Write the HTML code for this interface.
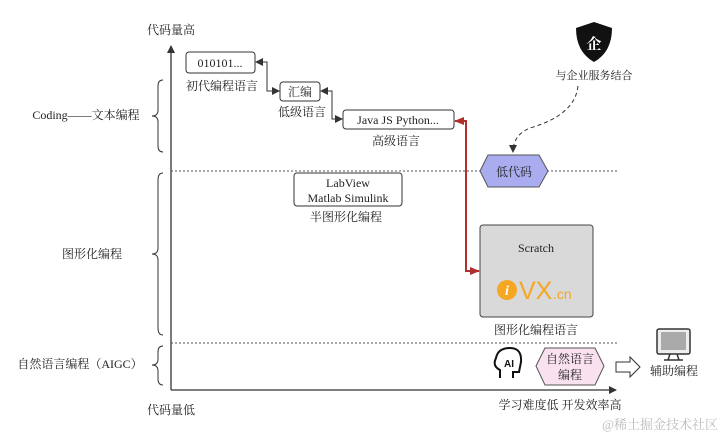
<!DOCTYPE html>
<html><head><meta charset="utf-8"><style>
body{margin:0;background:#fff}
svg{display:block}
text{font-family:"Liberation Serif","Noto Serif CJK SC",serif;fill:#222}
</style></head><body>
<svg width="720" height="437" viewBox="0 0 720 437" xmlns="http://www.w3.org/2000/svg">
<defs>
<marker id="a" markerWidth="8" markerHeight="8" refX="7" refY="4" orient="auto" markerUnits="userSpaceOnUse"><path d="M0,0 L8,4 L0,8z" fill="#333"/></marker>
<marker id="r" markerWidth="10" markerHeight="8" refX="9" refY="4" orient="auto" markerUnits="userSpaceOnUse"><path d="M0,0 L10,4 L0,8z" fill="#b03030"/></marker>
</defs>
<line x1="171" y1="390" x2="171" y2="46" stroke="#333" stroke-width="1.3" marker-end="url(#a)"/>
<line x1="171" y1="390" x2="616" y2="390" stroke="#333" stroke-width="1.3" marker-end="url(#a)"/>
<text x="171" y="34" font-size="12" text-anchor="middle">代码量高</text>
<text x="171" y="414" font-size="12" text-anchor="middle">代码量低</text>
<text x="560" y="409" font-size="12" text-anchor="middle">学习难度低  开发效率高</text>
<line x1="171" y1="171" x2="617" y2="171" stroke="#555" stroke-dasharray="2,2"/>
<line x1="171" y1="343" x2="617" y2="343" stroke="#555" stroke-dasharray="2,2"/>
<g fill="none" stroke="#333" stroke-width="1">
<path d="M163,80 Q158,80 158,86 L158,110 Q158,116 152,116 Q158,116 158,122 L158,146 Q158,152 163,152"/>
<path d="M163,173 Q158,173 158,180 L158,248 Q158,254 152,254 Q158,254 158,260 L158,328 Q158,335 163,335"/>
<path d="M163,346 Q158,346 158,352 L158,359 Q158,365 152,365 Q158,365 158,371 L158,379 Q158,385 163,385"/>
</g>
<text x="86" y="119" font-size="12" text-anchor="middle">Coding——文本编程</text>
<text x="92" y="258" font-size="12" text-anchor="middle">图形化编程</text>
<text x="80" y="368" font-size="12" text-anchor="middle">自然语言编程（AIGC）</text>
<rect x="186" y="52" width="69" height="21" rx="3" fill="#fff" stroke="#333"/>
<text x="220" y="67" font-size="12" text-anchor="middle">010101...</text>
<text x="222" y="90" font-size="12" text-anchor="middle">初代编程语言</text>
<rect x="280" y="82" width="40" height="19" rx="3" fill="#fff" stroke="#333"/>
<text x="300" y="96" font-size="12" text-anchor="middle">汇编</text>
<text x="302" y="116" font-size="12" text-anchor="middle">低级语言</text>
<rect x="343" y="110" width="111" height="19" rx="3" fill="#fff" stroke="#333"/>
<text x="398" y="124" font-size="12" text-anchor="middle">Java JS Python...</text>
<text x="396" y="145" font-size="12" text-anchor="middle">高级语言</text>
<g fill="none" stroke="#333" stroke-width="1">
<path d="M280,91 L267,91 L267,62 L256,62" marker-end="url(#a)"/>
<path d="M267,91 L279,91" marker-end="url(#a)"/>
<path d="M343,119 L332,119 L332,91 L321,91" marker-end="url(#a)"/>
<path d="M332,119 L342,119" marker-end="url(#a)"/>
</g>
<rect x="294" y="173" width="108" height="33" rx="3" fill="#fff" stroke="#333"/>
<text x="348" y="187" font-size="12" text-anchor="middle">LabView</text>
<text x="348" y="202" font-size="12" text-anchor="middle">Matlab Simulink</text>
<text x="346" y="221" font-size="12" text-anchor="middle">半图形化编程</text>
<path d="M466,271 L466,121 L455,121" fill="none" stroke="#b03030" stroke-width="2" marker-end="url(#r)"/>
<path d="M466,121 L466,271 L479,271" fill="none" stroke="#b03030" stroke-width="2" marker-end="url(#r)"/>
<polygon points="480,171 488,155 539,155 548,171 539,187 488,187" fill="#a9adf0" stroke="#555"/>
<text x="514" y="176" font-size="12" text-anchor="middle">低代码</text>
<path d="M594,22 L612,28 Q612,52 594,62 Q576,52 576,28 Z" fill="#111"/>
<text x="594" y="49" font-size="15" text-anchor="middle" style="fill:#fff;font-weight:bold">企</text>
<text x="594" y="79" font-size="11" text-anchor="middle">与企业服务结合</text>
<path d="M578,86 Q575,115 530,128 Q513,135 513,152" fill="none" stroke="#333" stroke-dasharray="4,3" marker-end="url(#a)"/>
<rect x="480" y="225" width="113" height="92" rx="3" fill="#d9d9d9" stroke="#444"/>
<text x="536" y="252" font-size="12" text-anchor="middle">Scratch</text>
<circle cx="507" cy="290" r="10" fill="#f5a623"/>
<text x="507" y="295" font-size="14" text-anchor="middle" style="fill:#fff;font-style:italic;font-weight:bold">i</text>
<text x="519" y="299" font-size="25" style="fill:#f5a623;font-family:'Liberation Sans',sans-serif">VX</text>
<text x="553" y="299" font-size="14" style="fill:#f5a623;font-family:'Liberation Sans',sans-serif">.cn</text>
<text x="536" y="334" font-size="12" text-anchor="middle">图形化编程语言</text>
<path d="M500,378 L500,370 Q492,366 496,358 Q498,348 510,348 Q522,348 521,362 L519,372 L513,372 L513,378" fill="none" stroke="#111" stroke-width="2"/>
<text x="509" y="367" font-size="10" text-anchor="middle" style="font-family:'Liberation Sans',sans-serif;font-weight:bold;fill:#111">AI</text>
<polygon points="536,366 545,348 595,348 604,366 595,385 545,385" fill="#f9e1ef" stroke="#555"/>
<text x="570" y="363" font-size="12" text-anchor="middle">自然语言</text>
<text x="570" y="379" font-size="12" text-anchor="middle">编程</text>
<path d="M616,362 L630,362 L630,357 L640,367 L630,377 L630,372 L616,372 Z" fill="#fff" stroke="#333"/>
<rect x="657" y="329" width="33" height="25" rx="2" fill="#eee" stroke="#333" stroke-width="1.5"/>
<rect x="661" y="332" width="25" height="18" fill="#aaa"/>
<path d="M670,354 L668,360 M677,354 L679,360 M664,360 L683,360" stroke="#333" stroke-width="1.5"/>
<text x="674" y="375" font-size="12" text-anchor="middle">辅助编程</text>
<text x="718" y="429" font-size="13" text-anchor="end" style="fill:#bbb">@稀土掘金技术社区</text>
</svg>
</body></html>
